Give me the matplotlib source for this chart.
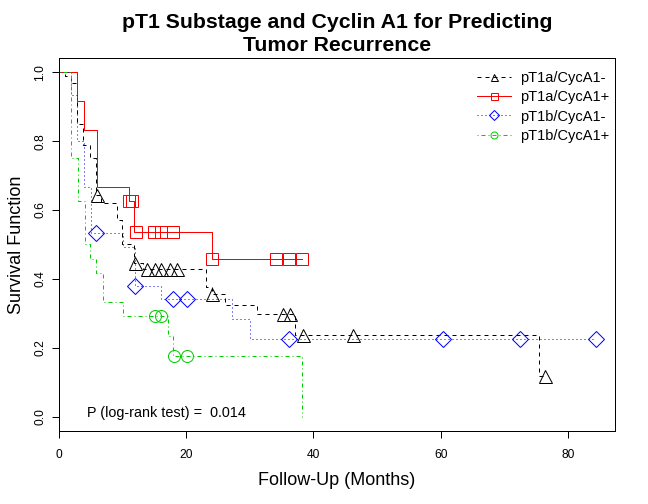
import numpy as np
import matplotlib
matplotlib.use('Agg')
import matplotlib.pyplot as plt
from matplotlib.lines import Line2D

plt.rcParams['font.family'] = ['Liberation Sans', 'DejaVu Sans']
plt.rcParams['lines.scale_dashes'] = False

# ---- data ----
labels = ['pT1a/CycA1-', 'pT1a/CycA1+', 'pT1b/CycA1-', 'pT1b/CycA1+']

black_t = [0, 1.0, 2.0, 2.8, 3.8, 4.9, 5.8, 6.7, 9.1, 9.9, 11.8, 13.3, 23.1, 24.1, 26.1, 31.2, 37.1, 75.4]
black_s = [1.0, 0.988, 0.97, 0.85, 0.79, 0.75, 0.645, 0.62, 0.571, 0.50, 0.445, 0.428, 0.377, 0.357, 0.324, 0.297, 0.237, 0.119]
black_cens = [6.0, 12.0, 13.8, 15.1, 16.1, 17.5, 18.5, 24.1, 35.3, 36.3, 38.3, 46.2, 76.4]
black_end = 76.4

red_t = [0, 2.8, 3.9, 6.0, 11.0, 11.9, 24.1]
red_s = [1.0, 0.917, 0.833, 0.667, 0.625, 0.535, 0.459]
red_cens = [11.0, 11.5, 12.1, 14.9, 16.0, 17.9, 24.1, 34.1, 36.2, 38.2]
red_end = 38.2

blue_t = [0, 2.0, 2.9, 4.0, 5.0, 10.1, 12.0, 16.1, 27.2, 30.1]
blue_s = [1.0, 0.933, 0.80, 0.667, 0.533, 0.494, 0.38, 0.342, 0.283, 0.226]
blue_cens = [5.9, 12.0, 18.0, 20.1, 36.1, 60.3, 72.4, 84.4]
blue_end = 84.4

green_t = [0, 2.0, 3.0, 4.1, 4.9, 5.9, 6.9, 10.1, 17.1, 18.0, 38.2]
green_s = [1.0, 0.75, 0.625, 0.50, 0.458, 0.417, 0.333, 0.292, 0.233, 0.175, 0.0]
green_cens = [15.1, 16.1, 18.1, 20.1]
green_end = 38.2

x_ticks = [0, 20, 40, 60, 80]
y_ticks = [0.0, 0.2, 0.4, 0.6, 0.8, 1.0]
y_ticklabels = ['0.0', '0.2', '0.4', '0.6', '0.8', '1.0']
p_text = 'P (log-rank test) =  0.014'

# ---- styles ----
styles = [
    dict(color='black', ls=(0, (4, 4)), marker='^', ms=13),
    dict(color='#FF0000', ls='-', marker='s', ms=12),
    dict(color='#0000FF', ls=(0, (1, 3)), marker='D', ms=11),
    dict(color='#00CD00', ls=(0, (1, 3, 4, 3)), marker='o', ms=12),
]

W, H = 648, 504
fig = plt.figure(figsize=(W / 72, H / 72), dpi=72)
ax_l, ax_r, ax_t, ax_b = 58.7, 615.0, 58.5, 430.5
ax = fig.add_axes([ax_l / W, 1 - ax_b / H, (ax_r - ax_l) / W, (ax_b - ax_t) / H])

curves = [
    (black_t, black_s, black_cens, black_end),
    (red_t, red_s, red_cens, red_end),
    (blue_t, blue_s, blue_cens, blue_end),
    (green_t, green_s, green_cens, green_end),
]

handles = []
for (t, s, cens, end), st, lab in zip(curves, styles, labels):
    t = np.asarray(t, float)
    s = np.asarray(s, float)
    xs = np.append(t, end)
    ys = np.append(s, s[-1])
    ax.step(xs, ys, where='post', color=st['color'], ls=st['ls'], lw=1.0)
    c = np.asarray(cens, float)
    idx = np.searchsorted(t, c, side='right') - 1
    ax.plot(c, s[idx], ls='none', marker=st['marker'], ms=st['ms'],
            mfc='none', mec=st['color'], mew=1.0)
    handles.append(Line2D([], [], color=st['color'], ls=st['ls'], lw=1.0,
                          marker=st['marker'], ms=7, mfc='none',
                          mec=st['color'], mew=1.0, label=lab))

ax.set_xlim(0, 87.36)
ax.set_ylim(-0.04, 1.04)
ax.set_xticks(x_ticks)
ax.set_xticklabels([str(v) for v in x_ticks])
ax.set_yticks(y_ticks)
ax.set_yticklabels(y_ticklabels, rotation=90, va='center')
ax.tick_params(axis='both', direction='out', length=7, width=1, labelsize=12,
               color='black')
ax.tick_params(axis='x', pad=12)
ax.tick_params(axis='y', pad=5.5)
for sp in ax.spines.values():
    sp.set_linewidth(1.0)
    sp.set_color('black')

ax.text(4.5, 0.0, p_text, fontsize=14.4, ha='left', va='baseline')

leg = ax.legend(handles=handles, loc='upper left',
                bbox_to_anchor=((477 - ax_l) / (ax_r - ax_l), 1 - (71 - ax_t) / (ax_b - ax_t)),
                frameon=False, fontsize=14.6, handlelength=2.3, handletextpad=0.65,
                labelspacing=0.36, borderpad=0, borderaxespad=0)

cx = (ax_l + ax_r) / 2 / W
fig.text(cx, 1 - 28 / H, 'pT1 Substage and Cyclin A1 for Predicting',
         fontsize=21.2, fontweight='bold', ha='center', va='baseline')
fig.text(cx, 1 - 51 / H, 'Tumor Recurrence',
         fontsize=21.2, fontweight='bold', ha='center', va='baseline')
fig.text(cx, 1 - 485 / H, 'Follow-Up (Months)', fontsize=18, ha='center', va='baseline')
fig.text(21 / W, 1 - ((ax_t + ax_b) / 2) / H, 'Survival Function', fontsize=18,
         rotation=90, rotation_mode='anchor', ha='center', va='baseline')

fig.savefig('out.png', dpi=72)
